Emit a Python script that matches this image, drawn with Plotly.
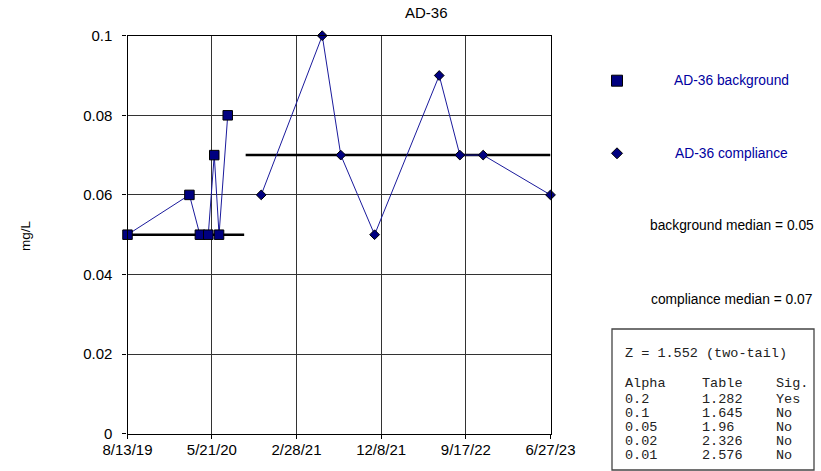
import plotly.graph_objects as go

W, H = 821, 471

# ---- data ----
bg_dates = ["2019-08-13", "2020-03-07", "2020-04-11", "2020-05-09", "2020-05-29", "2020-06-14", "2020-07-13"]
bg_values = [0.05, 0.06, 0.05, 0.05, 0.07, 0.05, 0.08]

cp_dates = ["2020-11-02", "2021-05-25", "2021-07-26", "2021-11-16", "2022-06-20", "2022-08-28", "2022-11-14", "2023-06-27"]
cp_values = [0.06, 0.10, 0.07, 0.05, 0.09, 0.07, 0.07, 0.06]

bg_median = 0.05
cp_median = 0.07
bg_median_span = ["2019-08-13", "2020-09-06"]
cp_median_span = ["2020-09-11", "2023-06-27"]

x_tick_dates = ["2019-08-13", "2020-05-21", "2021-02-28", "2021-12-08", "2022-09-17", "2023-06-27"]
x_tick_labels = ["8/13/19", "5/21/20", "2/28/21", "12/8/21", "9/17/22", "6/27/23"]
y_tick_vals = [0, 0.02, 0.04, 0.06, 0.08, 0.1]
y_tick_labels = ["0", "0.02", "0.04", "0.06", "0.08", "0.1"]

title_text = "AD-36"
y_title = "mg/L"
bg_name = "AD-36 background"
cp_name = "AD-36 compliance"
bg_median_text = "background median = 0.05"
cp_median_text = "compliance median = 0.07"

z_line = "Z = 1.552 (two-tail)"
table_header = ["Alpha", "Table", "Sig."]
table_alpha = ["0.2", "0.1", "0.05", "0.02", "0.01"]
table_value = ["1.282", "1.645", "1.96", "2.326", "2.576"]
table_sig = ["Yes", "No", "No", "No", "No"]

# ---- styles ----
NAVY = "#000080"
LINE_BLUE = "#1a1a9c"
SANS = "Liberation Sans, Arial, sans-serif"
MONO = "Liberation Mono, Courier New, monospace"

def px(x):
    return x / W

def py(y):
    return 1 - y / H

fig = go.Figure()

fig.add_trace(go.Scatter(
    x=bg_median_span, y=[bg_median, bg_median], mode="lines",
    line=dict(color="black", width=2.5), showlegend=False, hoverinfo="skip"))
fig.add_trace(go.Scatter(
    x=cp_median_span, y=[cp_median, cp_median], mode="lines",
    line=dict(color="black", width=2.5), showlegend=False, hoverinfo="skip"))

fig.add_trace(go.Scatter(
    x=bg_dates, y=bg_values, mode="lines+markers", name=bg_name,
    line=dict(color=LINE_BLUE, width=1),
    marker=dict(symbol="square", size=9.5, color=NAVY, line=dict(color="black", width=1)),
    cliponaxis=False, showlegend=False))
fig.add_trace(go.Scatter(
    x=cp_dates, y=cp_values, mode="lines+markers", name=cp_name,
    line=dict(color=LINE_BLUE, width=1),
    marker=dict(symbol="diamond", size=7.5, color=NAVY, line=dict(color="black", width=1)),
    cliponaxis=False, showlegend=False))

annotations = []
shapes = []

def text(x, y, s, size, color="black", family=SANS, xanchor="left", angle=0):
    annotations.append(dict(
        x=px(x), y=py(y), xref="paper", yref="paper", text=s, showarrow=False,
        xanchor=xanchor, yanchor="middle", textangle=angle,
        font=dict(family=family, size=size, color=color)))

# title and axis title
text(427, 13, title_text, 15, xanchor="center")
text(25, 236, y_title, 13.5, xanchor="center", angle=-90)

# legend
lx = 617
shapes.append(dict(type="rect", xref="paper", yref="paper",
                   x0=px(lx - 5.5), x1=px(lx + 5.5), y0=py(80.7 - 5.5), y1=py(80.7 + 5.5),
                   fillcolor=NAVY, line=dict(color="black", width=1)))
dy = 153.3
shapes.append(dict(type="path", xref="paper", yref="paper",
                   path=f"M {px(lx-5.5)} {py(dy)} L {px(lx)} {py(dy-5.5)} L {px(lx+5.5)} {py(dy)} L {px(lx)} {py(dy+5.5)} Z",
                   fillcolor=NAVY, line=dict(color="black", width=1)))
text(672, 80.7, bg_name, 13.8, color="#0000a0")
text(673, 153.3, cp_name, 13.8, color="#0000a0")
text(648, 225.7, bg_median_text, 13.8)
text(648.7, 299.3, cp_median_text, 13.8)

# stats table
shapes.append(dict(type="rect", xref="paper", yref="paper",
                   x0=px(612), x1=px(814), y0=py(329), y1=py(470),
                   line=dict(color="#444444", width=1.3), fillcolor="rgba(0,0,0,0)"))
TCOL = "#222222"
text(623, 353.3, z_line, 13.5, color=TCOL, family=MONO)
cols = [623, 700, 774]
text(cols[0], 383.3, table_header[0], 13.5, color=TCOL, family=MONO)
text(cols[1], 383.3, table_header[1], 13.5, color=TCOL, family=MONO)
text(cols[2], 383.3, table_header[2], 13.5, color=TCOL, family=MONO)
row_y = [399.3, 413.3, 427.3, 441.3, 455.3]
for i in range(len(table_alpha)):
    text(cols[0], row_y[i], table_alpha[i], 13.5, color=TCOL, family=MONO)
    text(cols[1], row_y[i], table_value[i], 13.5, color=TCOL, family=MONO)
    text(cols[2], row_y[i], table_sig[i], 13.5, color=TCOL, family=MONO)

fig.update_layout(
    width=W, height=H,
    margin=dict(l=0, r=0, t=0, b=0, autoexpand=False),
    paper_bgcolor="white", plot_bgcolor="white",
    showlegend=False,
    annotations=annotations, shapes=shapes,
    xaxis=dict(
        type="date", domain=[127.5 / W, 550.5 / W],
        range=[x_tick_dates[0], x_tick_dates[-1]],
        tickmode="array", tickvals=x_tick_dates, ticktext=x_tick_labels,
        showgrid=True, gridcolor="#333333", gridwidth=1,
        showline=True, linecolor="black", linewidth=1.3, mirror=True,
        ticks="outside", ticklen=4, tickcolor="black",
        tickfont=dict(family=SANS, size=15, color="black"),
        ticklabelstandoff=-2,
        zeroline=False, fixedrange=True),
    yaxis=dict(
        domain=[(H - 433.7) / H, (H - 35.7) / H],
        range=[0, 0.1],
        tickmode="array", tickvals=y_tick_vals, ticktext=y_tick_labels,
        showgrid=True, gridcolor="#333333", gridwidth=1,
        showline=True, linecolor="black", linewidth=1.3, mirror=True,
        ticks="outside", ticklen=4, tickcolor="black",
        tickfont=dict(family=SANS, size=15, color="black"),
        ticklabelstandoff=7,
        zeroline=False, fixedrange=True),
)

fig.write_html("out.html", config={"displayModeBar": False},
               post_script="document.body.style.margin='0';document.body.style.overflow='hidden';")
